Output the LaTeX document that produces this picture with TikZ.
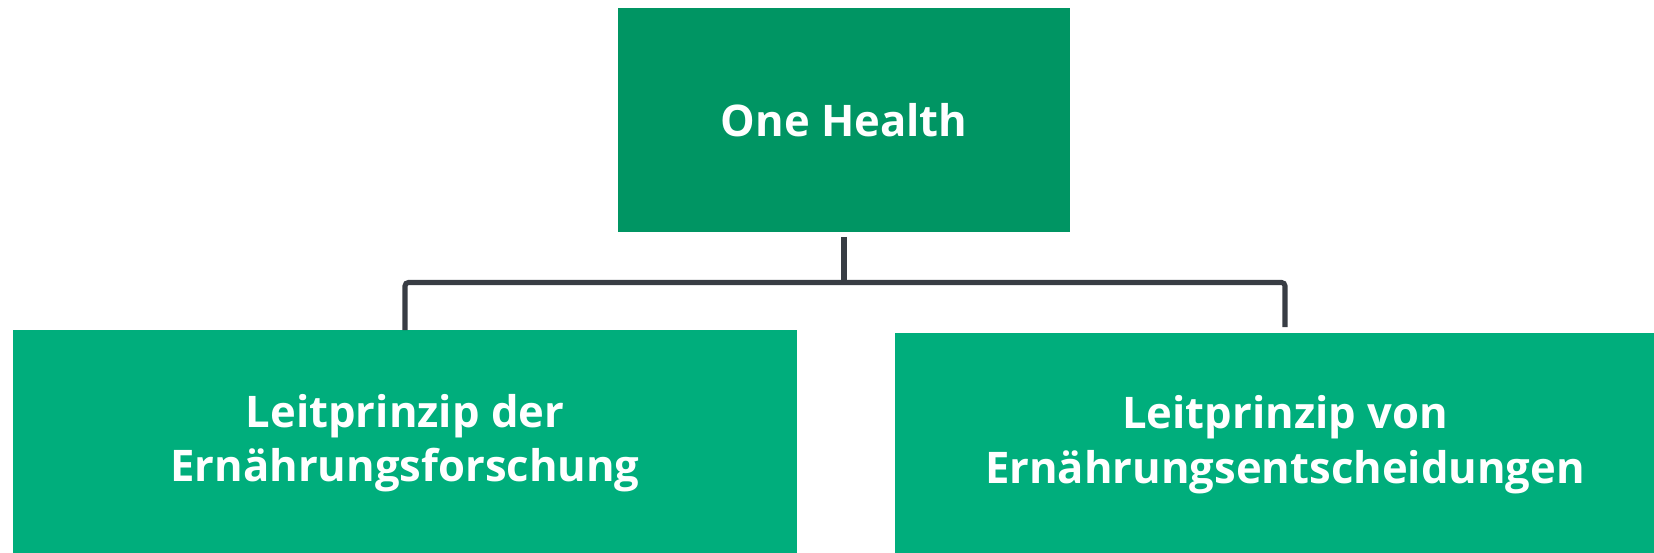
\documentclass[tikz,border=0pt]{standalone}
\usepackage{fontspec}
\setmainfont{Open Sans}
\usepackage{tikz}
\usetikzlibrary{calc}
\definecolor{darkgreen}{RGB}{ 0, 149, 99 }
\definecolor{lightgreen}{RGB}{ 0, 174, 124 }
\definecolor{linegray}{RGB}{ 56, 61, 68 }

\begin{document}
\begin{tikzpicture}[x=0.02cm,y=0.02cm,font=\fontsize{24.8}{31}\selectfont\bfseries]
\tikzstyle{top box}=[rectangle,fill=darkgreen,text=white,align=center,inner sep=0,outer sep=0]
\tikzstyle{sub box}=[rectangle,fill=lightgreen,text=white,align=center,inner sep=0,outer sep=0]
\tikzstyle{link}=[draw=linegray,line width=2.9pt,rounded corners=2]

\clip (0,0) rectangle (1654,553);

\node(0)[top box,minimum width=9.04cm,minimum height=4.48cm] at (844,433) {One Health};
\node(1)[sub box,minimum width=15.68cm,minimum height=4.52cm] at (405,110) {Leitprinzip der\\Ernährungsforschung};
\node(2)[sub box,minimum width=15.6cm,minimum height=4.46cm] at (1285,108.5) {Leitprinzip von\\Ernährungsentscheidungen};

% junction below the top box
\coordinate (j) at (844,270.5);
% bar from left box over to right box
\draw[link] (1.north) |- (j) -| ($(2.north)+(0,6)$);
% stub from top box
\draw[link] ($(0.south)+(0,-5)$) -- (j);

\end{tikzpicture}
\end{document}
